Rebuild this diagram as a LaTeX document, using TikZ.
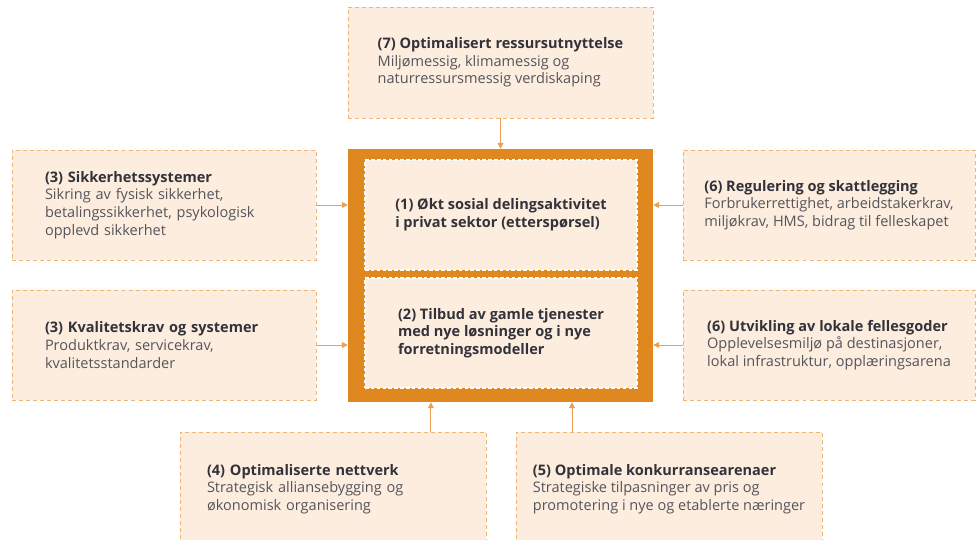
\documentclass[tikz,border=0pt]{standalone}
\usepackage{fontspec}
\setmainfont{Open Sans}
\usetikzlibrary{calc}
\usetikzlibrary{arrows.meta}

\definecolor{cream}{RGB}{252,237,222}
\definecolor{dashorange}{RGB}{240,180,115}
\definecolor{frameorange}{RGB}{224,136,32}
\definecolor{arroworange}{RGB}{233,160,82}
\definecolor{headgray}{RGB}{50,50,58}
\definecolor{bodygray}{RGB}{85,85,92}

\newcommand{\boxhead}[1]{{\color{headgray}\bfseries #1}}

\begin{document}
\begin{tikzpicture}

    \useasboundingbox (0,0) rectangle (29.31,-16.2);

    \tikzstyle{panel}=[draw=dashorange, dash pattern=on 3.4pt off 2.6pt, line width=0.8pt, fill=cream, rectangle, align=left, text=bodygray, font=\fontsize{12.4}{15}\selectfont]
    \tikzstyle{core}=[draw=white, dash pattern=on 3pt off 2pt, line width=1pt, fill=cream, rectangle, align=left, text=headgray, font=\fontsize{12.4}{15}\selectfont\bfseries]
    \tikzstyle{arr}=[draw=arroworange, line width=0.8pt, -{Triangle[length=5pt,width=5pt]}]

    % centre block
    \node[fill=frameorange, minimum width=9.15cm, minimum height=7.59cm] (frame) at (15.015,-8.265) {};
    \node[core, minimum width=8.16cm, minimum height=3.3cm] (demand) at (15.03,-6.45) {(1) Økt sosial delingsaktivitet\\i privat sektor (etterspørsel)};
    \node[core, minimum width=8.16cm, minimum height=3.3cm] (supply) at (15.03,-9.99) {(2) Tilbud av gamle tjenester\\med nye løsninger og i nye\\forretningsmodeller};

    % surrounding factors
    \node[panel, minimum width=9.15cm, minimum height=3.33cm] (resource) at (15.015,-1.875) {\boxhead{(7) Optimalisert ressursutnyttelse}\\Miljømessig, klimamessig og\\naturressursmessig verdiskaping};

    \node[panel, minimum height=3.3cm, text width=7.14cm, inner xsep=0.99cm] (safety) at (4.92,-6.15) {\boxhead{(3) Sikkerhetssystemer}\\Sikring av fysisk sikkerhet,\\betalingssikkerhet, psykologisk\\opplevd sikkerhet};
    \node[panel, minimum height=3.3cm, text width=7.14cm, inner xsep=0.99cm] (quality) at (4.92,-10.35) {\boxhead{(3) Kvalitetskrav og systemer}\\Produktkrav, servicekrav,\\kvalitetsstandarder};

    \node[panel, minimum width=8.76cm, minimum height=3.3cm] (regulation) at (24.87,-6.15) {\boxhead{(6) Regulering og skattlegging}\\Forbrukerrettighet, arbeidstakerkrav,\\miljøkrav, HMS, bidrag til felleskapet};
    \node[panel, minimum width=8.76cm, minimum height=3.3cm] (commons) at (24.87,-10.35) {\boxhead{(6) Utvikling av lokale fellesgoder}\\Opplevelsesmiljø på destinasjoner,\\lokal infrastruktur, opplæringsarena};

    \node[panel, minimum height=3.42cm, text width=7.56cm, inner xsep=0.81cm] (network) at (9.99,-14.67) {\boxhead{(4) Optimaliserte nettverk}\\Strategisk alliansebygging og\\økonomisk organisering};
    \node[panel, minimum width=9.18cm, minimum height=3.42cm] (arena) at (20.07,-14.67) {\boxhead{(5) Optimale konkurransearenaer}\\Strategiske tilpasninger av pris og\\promotering i nye og etablerte næringer};

    % arrows into the centre
    \draw[arr] (resource.south) -- (frame.north);
    \foreach \n in {safety,quality} {
        \draw[arr] (\n.east) -- (\n.east -| frame.west);
    }
    \foreach \n in {regulation,commons} {
        \draw[arr] (\n.west) -- (\n.west -| frame.east);
    }
    \coordinate (in4) at ($(frame.south west)!0.272!(frame.south east)$);
    \coordinate (in5) at ($(frame.south west)!0.734!(frame.south east)$);
    \draw[arr] (network.north -| in4) -- (in4);
    \draw[arr] (arena.north -| in5) -- (in5);

\end{tikzpicture}
\end{document}
